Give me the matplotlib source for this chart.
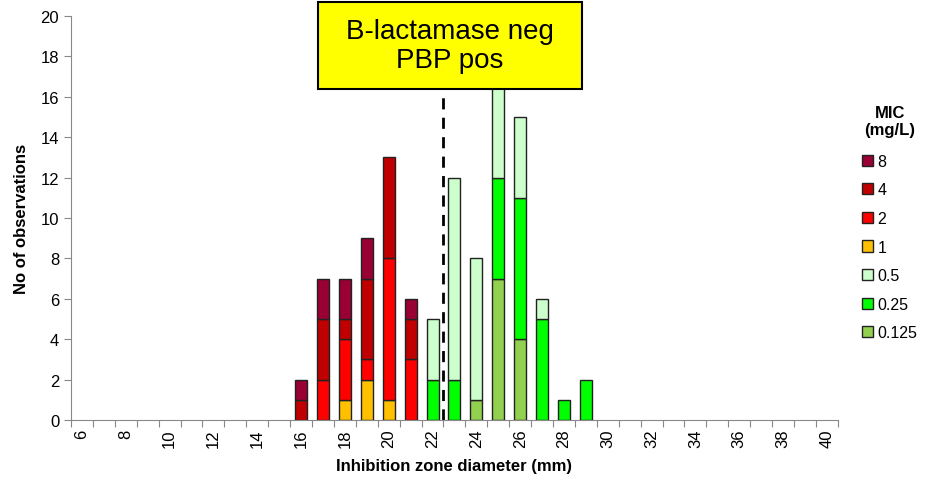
import matplotlib.pyplot as plt
from matplotlib.patches import Rectangle
import numpy as np

plt.rcParams['font.family'] = ['Liberation Sans', 'DejaVu Sans']

# zone diameters (mm), one slot per mm
diameters = list(range(6, 41))
mic_labels = ["0.125", "0.25", "0.5", "1", "2", "4", "8"]
mic_colors = ["#92D050", "#00FF00", "#CCFFCC", "#FFC000", "#FF0000", "#C00000", "#990033"]

# counts per MIC, keyed by diameter
mic_0125 = {24: 1, 25: 7, 26: 4}
mic_025 = {22: 2, 23: 2, 25: 5, 26: 7, 27: 5, 28: 1, 29: 2}
mic_05 = {22: 3, 23: 10, 24: 7, 25: 5, 26: 4, 27: 1}
mic_1 = {18: 1, 19: 2, 20: 1}
mic_2 = {17: 2, 18: 3, 19: 1, 20: 7, 21: 3}
mic_4 = {16: 1, 17: 3, 18: 1, 19: 4, 20: 5, 21: 2}
mic_8 = {16: 1, 17: 2, 18: 2, 19: 2, 21: 1}
series = [mic_0125, mic_025, mic_05, mic_1, mic_2, mic_4, mic_8]

fig = plt.figure(figsize=(9.25, 4.81), dpi=100)
ax = fig.add_axes([0.0768, 0.1247, 0.829, 0.84])

x = np.arange(len(diameters))
bottom = np.zeros(len(diameters))
handles = []
for lab, col, s in zip(mic_labels, mic_colors, series):
    vals = np.array([s.get(d, 0) for d in diameters], dtype=float)
    keep = vals > 0
    b = ax.bar(x[keep], vals[keep], bottom=bottom[keep], width=0.55, color=col,
               edgecolor="#222222", linewidth=1, label=lab)
    handles.append(b)
    bottom += vals

# breakpoint line between 22 and 23
ax.axvline(16.5, ymin=0, ymax=0.825, color="black", linestyle=(0, (4, 3)), linewidth=2)

ax.set_xlim(-0.5, len(diameters) - 0.5)
ax.set_ylim(0, 20)
ax.set_yticks(range(0, 21, 2))
ax.set_xticks(np.arange(-0.5, len(diameters), 1))
ax.set_xticklabels([])
ax.set_xticks(x[::2], minor=True)
ax.set_xticklabels([str(d) for d in diameters[::2]], minor=True, rotation=90, fontsize=12)
ax.tick_params(axis='x', which='minor', length=0, pad=6)
ax.tick_params(axis='x', which='major', length=5, color="#888888")
ax.tick_params(axis='y', length=5, color="#888888", labelsize=12)

for sp in ["top", "right"]:
    ax.spines[sp].set_visible(False)
for sp in ["left", "bottom"]:
    ax.spines[sp].set_color("#888888")

ax.set_xlabel("Inhibition zone diameter (mm)", fontsize=12, fontweight="bold", labelpad=8)
ax.set_ylabel("No of observations", fontsize=12, fontweight="bold", labelpad=8)

leg = fig.legend(handles[::-1], mic_labels[::-1], title="MIC\n(mg/L)", frameon=False,
                 loc="upper left", bbox_to_anchor=(0.932, 0.78), borderaxespad=0, borderpad=0,
                 fontsize=11.5, handlelength=0.7, handleheight=0.7, handletextpad=0.25,
                 labelspacing=0.85)
leg.get_title().set_fontweight("bold")
leg.get_title().set_fontsize(12)
leg.get_title().set_multialignment("center")
leg._legend_box.sep = 12

fig.patches.append(Rectangle((0.3438, 0.8129), 0.2854, 0.181, transform=fig.transFigure,
                             facecolor="#FFFF00", edgecolor="black", linewidth=1.5, zorder=10))
fig.text(0.4865, 0.904, "B-lactamase neg\nPBP pos", ha="center", va="center", fontsize=20,
         linespacing=1.15, zorder=11)

fig.savefig("out.png", dpi=100)
